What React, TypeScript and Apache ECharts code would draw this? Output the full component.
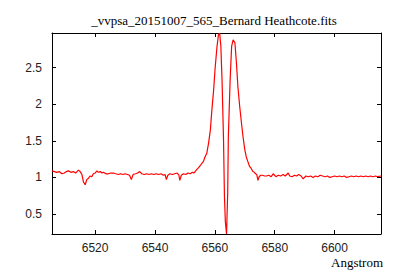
import React, { useEffect, useRef } from "react";
import * as echarts from "echarts";

const chartTitle = "_vvpsa_20151007_565_Bernard Heathcote.fits";
const xAxisName = "Angstrom";

const xTicks = [6520, 6540, 6560, 6580, 6600];
const yTicks = [0.5, 1, 1.5, 2, 2.5];

const xMin = 6505.6;
const xMax = 6615.5;
const yMin = 0.227;
const yMax = 2.974;

const wavelength = [
  6505.6, 6506.4, 6507.2, 6508.0, 6508.9, 6509.7, 6510.4, 6511.1, 6511.9, 6512.7,
  6513.5, 6514.4, 6515.0, 6515.6, 6516.1, 6516.7, 6517.2, 6517.8, 6518.3, 6518.9,
  6519.4, 6520.0, 6520.6, 6521.1, 6521.7, 6522.3, 6522.8, 6523.6, 6524.4, 6525.2,
  6526.1, 6526.9, 6527.8, 6528.5, 6529.3, 6530.0, 6530.8, 6531.5, 6532.1, 6532.7,
  6533.5, 6534.2, 6534.9, 6535.6, 6536.4, 6537.2, 6538.0, 6538.8, 6539.6, 6540.4,
  6541.2, 6542.0, 6542.8, 6543.4, 6543.8, 6544.3, 6545.0, 6545.8, 6546.6, 6547.4,
  6548.0, 6548.3, 6548.8, 6549.5, 6550.3, 6551.0, 6551.8, 6552.5, 6553.0, 6553.4,
  6554.0, 6554.5, 6555.1, 6555.6, 6556.2, 6556.7, 6557.3, 6557.9, 6558.5, 6559.0,
  6559.6, 6560.1, 6560.7, 6561.2, 6561.6, 6562.0, 6562.4, 6562.9, 6563.2, 6563.5,
  6563.9, 6564.3, 6564.5, 6565.1, 6565.6, 6566.1, 6566.7, 6567.2, 6567.7, 6568.3,
  6568.9, 6569.4, 6570.0, 6570.5, 6571.0, 6571.6, 6572.2, 6572.7, 6573.2, 6573.6,
  6574.0, 6574.4, 6574.8, 6575.3, 6575.9, 6576.6, 6577.3, 6578.0, 6578.8, 6579.5,
  6580.4, 6581.2, 6582.0, 6582.8, 6583.5, 6584.5, 6585.0, 6585.8, 6586.6, 6587.3,
  6588.0, 6588.8, 6589.5, 6590.4, 6591.2, 6592.0, 6592.8, 6593.6, 6594.4, 6595.2,
  6596.0, 6596.8, 6597.6, 6598.4, 6599.2, 6600.0, 6600.8, 6601.6, 6602.4, 6603.2,
  6604.0, 6604.8, 6605.6, 6606.4, 6607.2, 6608.0, 6608.8, 6609.6, 6610.4, 6611.2,
  6612.0, 6612.8, 6613.6, 6614.4, 6615.5,
];

const flux = [
  1.09, 1.08, 1.07, 1.08, 1.05, 1.06, 1.08, 1.09, 1.07, 1.08,
  1.06, 1.10, 1.08, 1.04, 0.94, 0.90, 0.97, 0.99, 1.02, 1.01,
  1.05, 1.06, 1.09, 1.07, 1.08, 1.06, 1.07, 1.05, 1.05, 1.06,
  1.06, 1.05, 1.04, 1.05, 1.04, 1.05, 1.04, 1.03, 0.97, 1.04,
  1.05, 1.06, 1.08, 1.05, 1.04, 1.05, 1.04, 1.05, 1.04, 1.05,
  1.04, 1.05, 1.03, 1.04, 0.97, 1.03, 1.05, 1.04, 1.05, 1.06,
  1.03, 0.96, 1.03, 1.05, 1.04, 1.06, 1.05, 1.07, 1.06, 1.08,
  1.11, 1.13, 1.16, 1.19, 1.22, 1.28, 1.33, 1.47, 1.65, 1.92,
  2.20, 2.50, 2.78, 2.95, 2.974, 2.80, 2.33, 1.51, 0.75, 0.40,
  0.227, 0.80, 1.55, 2.33, 2.79, 2.88, 2.84, 2.57, 2.24, 1.97,
  1.74, 1.56, 1.38, 1.28, 1.22, 1.15, 1.12, 1.08, 1.07, 1.05,
  1.04, 0.96, 1.01, 1.03, 1.03, 1.02, 1.02, 1.03, 1.01, 1.05,
  1.01, 1.03, 1.02, 1.04, 1.02, 1.06, 1.02, 1.01, 1.03, 1.02,
  1.04, 1.02, 0.98, 1.02, 1.01, 1.02, 1.00, 1.02, 1.01, 1.03,
  1.02, 1.01, 1.02, 1.00, 1.01, 1.02, 1.01, 1.02, 1.01, 1.02,
  1.00, 1.01, 1.02, 1.01, 1.02, 1.01, 1.02, 1.01, 1.02, 1.01,
  1.02, 1.01, 1.02, 1.01, 1.02,
];

export default function App() {
  const ref = useRef<HTMLDivElement>(null);

  useEffect(() => {
    if (!ref.current) return;
    const chart = echarts.init(ref.current, undefined, { renderer: "svg" });
    const data = wavelength.map((w, i) => [w, flux[i]]);
    const axisLine = { show: true, lineStyle: { color: "#000", width: 1 } };
    const labelStyle = {
      color: "#222",
      fontFamily: "Liberation Sans",
      fontSize: 12,
    };
    chart.setOption({
      animation: false,
      backgroundColor: "#fff",
      grid: { left: 52, right: 19, top: 33, bottom: 46, containLabel: false },
      xAxis: [
        {
          type: "value",
          position: "bottom",
          min: xMin,
          max: xMax,
          axisLine,
          axisTick: { show: true, inside: true, length: 4, customValues: xTicks, lineStyle: { color: "#000" } },
          axisLabel: {
            ...labelStyle,
            margin: 8,
            lineHeight: 12,
            customValues: xTicks,
            formatter: (v: number) => String(v),
          },
          splitLine: { show: false },
        },
        {
          type: "value",
          position: "top",
          min: xMin,
          max: xMax,
          axisLine,
          axisTick: { show: true, inside: true, length: 4, customValues: xTicks, lineStyle: { color: "#000" } },
          axisLabel: { show: false },
          splitLine: { show: false },
        },
      ],
      yAxis: [
        {
          type: "value",
          position: "left",
          min: yMin,
          max: yMax,
          axisLine,
          axisTick: { show: true, inside: true, length: 4, customValues: yTicks, lineStyle: { color: "#000" } },
          axisLabel: {
            ...labelStyle,
            margin: 10,
            customValues: yTicks,
            formatter: (v: number) => String(v),
          },
          splitLine: { show: false },
        },
        {
          type: "value",
          position: "right",
          min: yMin,
          max: yMax,
          axisLine,
          axisTick: { show: true, inside: true, length: 4, customValues: yTicks, lineStyle: { color: "#000" } },
          axisLabel: { show: false },
          splitLine: { show: false },
        },
      ],
      graphic: [
        {
          type: "text",
          x: 214,
          y: 20,
          style: {
            text: chartTitle,
            fontFamily: "Liberation Serif",
            fontSize: 13,
            fill: "#000",
            align: "center",
            verticalAlign: "middle",
          },
        },
        {
          type: "text",
          x: 383,
          y: 262,
          style: {
            text: xAxisName,
            fontFamily: "Liberation Serif",
            fontSize: 13,
            lineHeight: 13,
            fill: "#000",
            align: "right",
            verticalAlign: "middle",
          },
        },
      ],
      series: [
        {
          type: "line",
          xAxisIndex: 0,
          yAxisIndex: 0,
          data,
          showSymbol: false,
          symbol: "none",
          clip: true,
          lineStyle: { color: "#ff0000", width: 1.2 },
        },
      ],
    });
    return () => chart.dispose();
  }, []);

  return (
    <div
      ref={ref}
      style={{ position: "fixed", left: 0, top: 0, width: 400, height: 280 }}
    />
  );
}
